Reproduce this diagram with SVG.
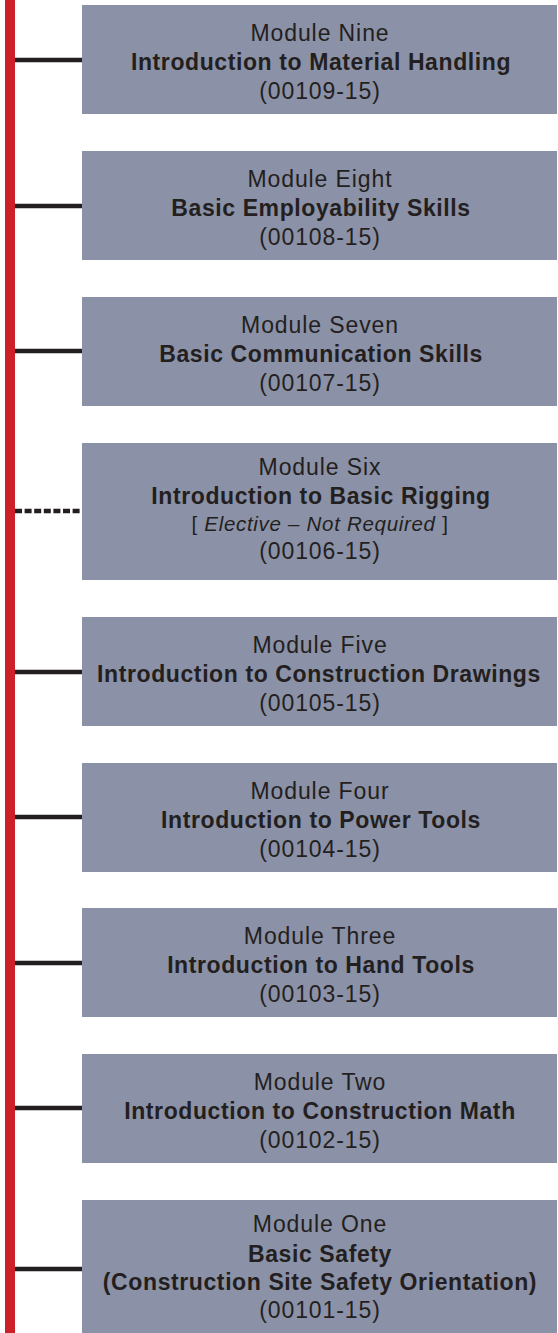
<svg xmlns="http://www.w3.org/2000/svg" width="558" height="1333" viewBox="0 0 558 1333">
<style>
.box{fill:#8b91a6}
.t{font-family:"Liberation Sans",Arial,sans-serif;fill:#231f20;text-anchor:middle}
.r{font-size:23px;letter-spacing:0.9px}
.b{font-size:23px;font-weight:bold;letter-spacing:0.6px}
.e{font-size:20.5px;letter-spacing:0.7px}
.c{stroke:#231f20;stroke-width:4.5;fill:none}
.d{stroke-dasharray:7 2.6}
</style>
<rect x="0" y="0" width="558" height="1333" fill="#ffffff"/>
<rect id="timeline" x="5" y="0" width="10" height="1333" fill="#cd2129"/>
<g id="connectors">
<line class="c" x1="15" y1="60" x2="83" y2="60"/>
<line class="c" x1="15" y1="206" x2="83" y2="206"/>
<line class="c" x1="15" y1="351" x2="83" y2="351"/>
<line class="c d" x1="15" y1="511" x2="83" y2="511"/>
<line class="c" x1="15" y1="672" x2="83" y2="672"/>
<line class="c" x1="15" y1="817" x2="83" y2="817"/>
<line class="c" x1="15" y1="963" x2="83" y2="963"/>
<line class="c" x1="15" y1="1108" x2="83" y2="1108"/>
<line class="c" x1="15" y1="1269" x2="83" y2="1269"/>
</g>
<g id="m9">
<rect class="box" x="82" y="5" width="475" height="109"/>
<text class="t r" x="320" y="41">Module Nine</text>
<text class="t b" x="321" y="70">Introduction to Material Handling</text>
<text class="t r" x="320" y="99">(00109-15)</text>
</g>
<g id="m8">
<rect class="box" x="82" y="151" width="475" height="109"/>
<text class="t r" x="320" y="187">Module Eight</text>
<text class="t b" x="321" y="216">Basic Employability Skills</text>
<text class="t r" x="320" y="245">(00108-15)</text>
</g>
<g id="m7">
<rect class="box" x="82" y="297" width="475" height="109"/>
<text class="t r" x="320" y="333">Module Seven</text>
<text class="t b" x="321" y="362">Basic Communication Skills</text>
<text class="t r" x="320" y="391">(00107-15)</text>
</g>
<g id="m6">
<rect class="box" x="82" y="443" width="475" height="137"/>
<text class="t r" x="320" y="475">Module Six</text>
<text class="t b" x="321" y="504">Introduction to Basic Rigging</text>
<text class="t e" x="320" y="531">[ <tspan font-style="italic">Elective – Not Required</tspan> ]</text>
<text class="t r" x="320" y="559">(00106-15)</text>
</g>
<g id="m5">
<rect class="box" x="82" y="617" width="475" height="109"/>
<text class="t r" x="320" y="653">Module Five</text>
<text class="t b" x="319" y="682">Introduction to Construction Drawings</text>
<text class="t r" x="320" y="711">(00105-15)</text>
</g>
<g id="m4">
<rect class="box" x="82" y="763" width="475" height="109"/>
<text class="t r" x="320" y="799">Module Four</text>
<text class="t b" x="321" y="828">Introduction to Power Tools</text>
<text class="t r" x="320" y="857">(00104-15)</text>
</g>
<g id="m3">
<rect class="box" x="82" y="908" width="475" height="109"/>
<text class="t r" x="320" y="944">Module Three</text>
<text class="t b" x="321" y="973">Introduction to Hand Tools</text>
<text class="t r" x="320" y="1002">(00103-15)</text>
</g>
<g id="m2">
<rect class="box" x="82" y="1054" width="475" height="109"/>
<text class="t r" x="320" y="1090">Module Two</text>
<text class="t b" x="320" y="1119">Introduction to Construction Math</text>
<text class="t r" x="320" y="1148">(00102-15)</text>
</g>
<g id="m1">
<rect class="box" x="82" y="1200" width="475" height="140"/>
<text class="t r" x="320" y="1232">Module One</text>
<text class="t b" x="320" y="1262">Basic Safety</text>
<text class="t b" x="320" y="1290">(Construction Site Safety Orientation)</text>
<text class="t r" x="320" y="1318">(00101-15)</text>
</g>
</svg>
